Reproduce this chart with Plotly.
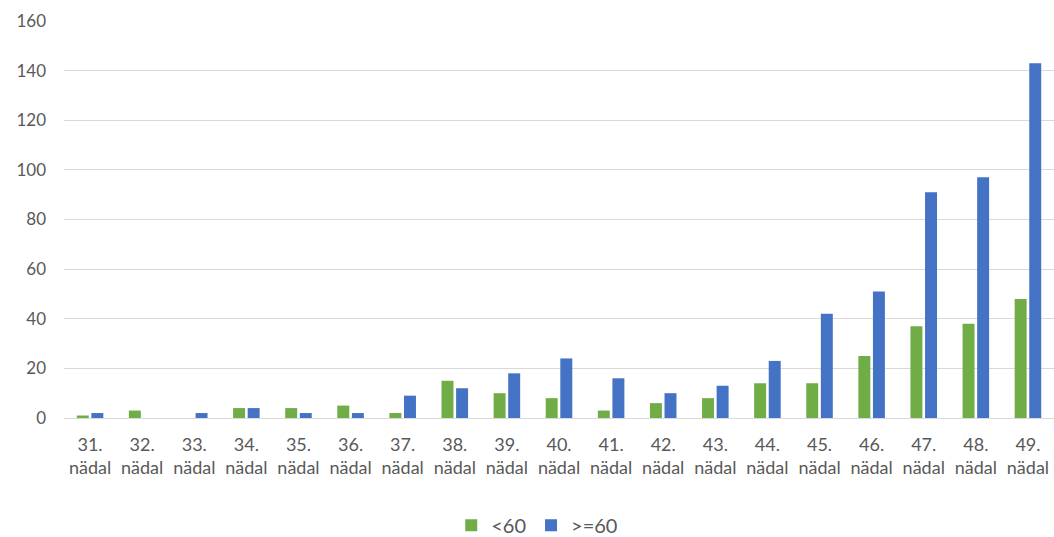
import plotly.graph_objects as go

weeks = ["31.", "32.", "33.", "34.", "35.", "36.", "37.", "38.", "39.", "40.",
         "41.", "42.", "43.", "44.", "45.", "46.", "47.", "48.", "49."]
labels = [w + "<br>nädal" for w in weeks]
under60 = [1, 3, 0, 4, 4, 5, 2, 15, 10, 8, 3, 6, 8, 14, 14, 25, 37, 38, 48]
over60 = [2, 0, 2, 4, 2, 2, 9, 12, 18, 24, 16, 10, 13, 23, 42, 51, 91, 97, 143]
y_ticks = [0, 20, 40, 60, 80, 100, 120, 140, 160]

fig = go.Figure()
fig.add_trace(go.Bar(x=labels, y=under60, name="<60", marker_color="#70AD47",
                     marker_line_width=0))
fig.add_trace(go.Bar(x=labels, y=over60, name=">=60", marker_color="#4472C4",
                     marker_line_width=0))

fig.update_layout(
    width=1054, height=537,
    barmode="group", bargap=0.44, bargroupgap=0.18,
    plot_bgcolor="white", paper_bgcolor="white",
    margin=dict(l=64, r=0, t=21, b=119, autoexpand=False),
    font=dict(family="Lato, Open Sans, sans-serif", size=16, color="#595959"),
    legend=dict(orientation="h", x=0.478, xanchor="center", yref="container",
                y=0.022, yanchor="middle", itemwidth=30,
                font=dict(size=20, color="#595959"), traceorder="normal"),
    showlegend=True,
)
fig.update_yaxes(range=[0, 160], tickvals=y_ticks, showgrid=True, gridcolor="#d9d9d9",
                 gridwidth=1, zeroline=False, showline=False, ticks="", ticklen=0,
                 automargin=False, ticklabelstandoff=17,
                 tickfont=dict(size=17, color="#595959"))
fig.update_xaxes(showline=True, linecolor="#d9d9d9", linewidth=1, ticks="",
                 automargin=False, ticklabelstandoff=10,
                 tickfont=dict(size=18, color="#595959"), tickangle=0)

fig.write_html("out.html", config={"displayModeBar": False},
               post_script="document.body.style.margin='0';document.body.style.overflow='hidden';")
